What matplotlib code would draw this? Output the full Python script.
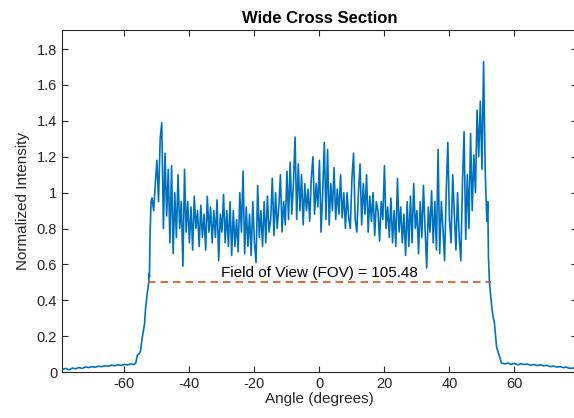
import matplotlib
matplotlib.use("Agg")
import matplotlib.pyplot as plt
import numpy as np
from matplotlib.ticker import FormatStrFormatter

plt.rcParams['font.family'] = ['Liberation Sans', 'DejaVu Sans']
plt.rcParams['axes.unicode_minus'] = False  # plain hyphen like MATLAB

# left baseline, -79..-57 deg
base_left_x = list(range(-79, -56))
base_left_y = [0.015, 0.02, 0.012, 0.022, 0.018, 0.025, 0.02, 0.028, 0.025, 0.03, 0.027, 0.032,
               0.03, 0.035, 0.032, 0.038, 0.035, 0.04, 0.037, 0.042, 0.04, 0.045, 0.042]

# rising edge
edge_left_x = [-56.5, -56.0, -55.5, -55.0, -54.6, -54.15, -53.8, -53.5, -53.1, -52.5, -52.4, -52.3, -52.1, -51.8]
edge_left_y = [0.05, 0.095, 0.10, 0.12, 0.18, 0.23, 0.27, 0.35, 0.42, 0.50, 0.55, 0.53, 0.77, 0.95]

# plateau, -51.5..51.5 deg in 0.5 deg steps
plateau_y = [
    0.97, 0.90, 1.05, 1.18, 0.95, 1.30, 1.39, 0.80, 1.22,
    0.87, 1.13, 0.72, 1.15, 0.66, 1.00, 0.75, 1.10, 0.80, 0.95,
    0.59, 1.13, 0.78, 0.95, 0.72, 0.92, 0.68, 0.98, 0.80, 0.90,
    0.70, 0.93, 0.75, 0.88, 0.68, 0.98, 0.78, 0.92, 0.72, 0.90,
    0.75, 0.96, 0.62, 0.88, 0.78, 0.99, 0.72, 0.90, 0.70, 0.95,
    0.65, 0.90, 0.70, 0.85, 0.67, 1.00, 0.78, 1.12, 0.66, 0.92,
    0.70, 0.88, 0.65, 0.95, 0.72, 0.61, 1.04, 0.75, 0.90, 0.70,
    0.95, 0.72, 0.98, 0.78, 0.85, 1.08, 0.76, 1.00, 0.80, 0.92,
    1.10, 0.78, 0.95, 0.82, 1.12, 0.85, 1.17, 0.88, 1.05, 1.31,
    0.85, 1.16, 0.90, 1.10, 0.82, 1.05, 0.90, 1.02, 0.84, 1.08,
    1.20, 0.88, 1.05, 0.92, 1.18, 0.78, 1.00, 1.28, 0.85, 1.24,
    0.82, 1.05, 0.90, 1.14, 0.85, 1.02, 0.88, 1.10, 0.86, 1.00,
    0.80, 1.00, 0.86, 0.80, 1.08, 1.22, 0.85, 0.78, 1.00, 1.16,
    0.82, 1.05, 0.88, 1.10, 0.78, 0.98, 0.84, 1.00, 0.76, 0.95,
    0.90, 0.73, 0.95, 0.85, 1.15, 0.80, 0.92, 0.75, 0.97, 0.72,
    0.90, 0.70, 1.08, 0.78, 0.92, 0.72, 0.88, 0.65, 0.95, 0.70,
    0.98, 0.72, 1.05, 0.80, 0.90, 0.66, 0.95, 0.75, 1.04, 0.80,
    0.58, 0.92, 0.78, 1.01, 0.72, 0.95, 0.68, 1.24, 0.66, 0.95,
    0.80, 0.62, 1.00, 1.28, 0.85, 0.72, 1.10, 0.88, 0.68, 1.00,
    0.75, 0.62, 1.05, 1.34, 0.74, 1.10, 0.80, 1.33, 0.90, 1.21,
    1.00, 1.46, 1.20, 1.51, 1.13, 1.73, 1.12, 0.84,
]
plateau_x = np.arange(-51.5, 51.75, 0.5)

# falling edge
edge_right_x = [51.8, 52.0, 52.3, 52.7, 53.1, 53.5, 53.8, 54.2, 54.5, 55.0, 55.5, 56.0, 56.5]
edge_right_y = [0.95, 0.64, 0.50, 0.42, 0.35, 0.30, 0.28, 0.20, 0.14, 0.11, 0.08, 0.05, 0.048]

# right baseline, 57..79 deg
base_right_x = list(range(57, 80))
base_right_y = [0.045, 0.05, 0.043, 0.048, 0.04, 0.046, 0.042, 0.044, 0.038, 0.042, 0.036, 0.04,
                0.035, 0.037, 0.03, 0.033, 0.028, 0.03, 0.025, 0.027, 0.02, 0.022, 0.018]

fov = 105.48
half_max = 0.5

angle = np.concatenate([base_left_x, edge_left_x, plateau_x, edge_right_x, base_right_x])
intensity = np.concatenate([base_left_y, edge_left_y, plateau_y, edge_right_y, base_right_y])

fig = plt.figure(figsize=(5.74, 4.18), dpi=100)
ax = fig.add_axes([0.108, 0.110, 0.897, 0.818])

ax.plot(angle, intensity, color='#0072BD', linewidth=1.2)
ax.plot([-fov / 2, fov / 2], [half_max, half_max], color='#D95319', linewidth=1.2,
        dashes=(4.5, 3))
ax.text(0, half_max + 0.015, 'Field of View (FOV) = %.2f' % fov, ha='center', va='bottom',
        fontsize=11, color='black')

ax.set_xlim(-79.2, 79.2)
ax.set_ylim(0, 1.906)
ax.set_xticks([-60, -40, -20, 0, 20, 40, 60])
ax.set_yticks(np.arange(0, 1.81, 0.2))
ax.yaxis.set_major_formatter(FormatStrFormatter('%g'))

dark = '#262626'
for s in ax.spines.values():
    s.set_color(dark)
    s.set_linewidth(0.8)
ax.tick_params(direction='in', top=True, right=True, length=4, width=0.8,
               colors=dark, labelsize=10.5)

ax.set_title('Wide Cross Section', fontsize=12, fontweight='bold', color='black', pad=5)
ax.set_xlabel('Angle (degrees)', fontsize=11, color=dark, labelpad=1)
ax.set_ylabel('Normalized Intensity', fontsize=11, color=dark, labelpad=5)

fig.savefig('out.png', dpi=100)
